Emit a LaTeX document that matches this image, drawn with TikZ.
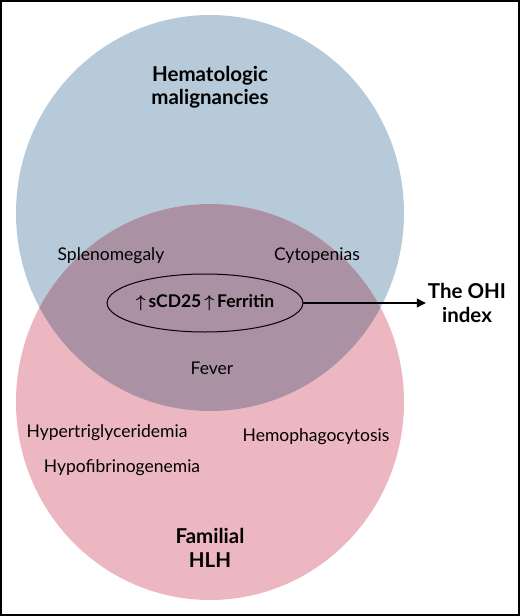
\documentclass[tikz,border=0pt]{standalone}
\usepackage{fontspec}
\setmainfont{Lato}
\usetikzlibrary{shapes.geometric, arrows.meta, positioning}
\definecolor{hemablue}{HTML}{B7CAD9}
\definecolor{hlhpink}{HTML}{EDB7C2}
\definecolor{overlapmix}{HTML}{AA91A4}
\tikzset{
  lbl/.style={font=\fontsize{17.5}{20}\selectfont, text=black},
  ttl/.style={font=\fontsize{20.5}{23.5}\selectfont\bfseries, align=center, text=black},
}

\begin{document}
\begin{tikzpicture}[x=1pt,y=-1pt]
  \useasboundingbox (0,0) rectangle (520,616);
  % circles
  \fill[hemablue] (210,213) ellipse [x radius=194pt, y radius=198pt];
  \fill[hlhpink] (210,402) ellipse [x radius=194pt, y radius=198pt];
  \begin{scope}
    \clip (210,213) ellipse [x radius=194pt, y radius=198pt];
    \fill[overlapmix] (210,402) ellipse [x radius=194pt, y radius=198pt];
  \end{scope}
  % group titles
  \node[ttl] (hema) at (210,87) {Hematologic\\malignancies};
  \node[ttl] (fhlh) at (210,548) {Familial\\HLH};
  % features
  \foreach \x/\y/\nm/\txt in {
    111/256/spleno/Splenomegaly,
    317/256/cyto/Cytopenias,
    212/368/fever/Fever,
    107/433/hypertg/Hypertriglyceridemia,
    316/437/hemo/Hemophagocytosis,
    122/468/hypofib/Hypofibrinogenemia}
  {
    \node[lbl] (\nm) at (\x,\y) {\txt};
  }
  % markers
  \node[draw, ellipse, line width=1pt, minimum width=173pt, minimum height=58pt,
        inner sep=0pt, font=\fontsize{17.5}{20}\selectfont\bfseries\boldmath]
        (mark) at (205,303) {$\big\uparrow$\,sCD25\,$\big\uparrow$\,Ferritin};
  \node[ttl, inner sep=2pt] (ohi) at (467,303) {The OHI\\index};
  \draw[line width=1.2pt, -{Triangle[length=9pt,width=9pt]}] (mark.east) -- (ohi.west);
  % frame
  \draw[line width=2pt] (1,1) rectangle (519,615);
\end{tikzpicture}
\end{document}
